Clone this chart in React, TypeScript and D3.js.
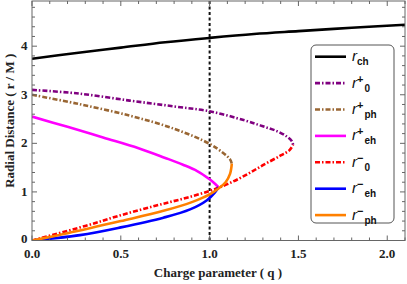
import React from 'react';
import * as d3 from 'd3';

type Pt = [number, number];

// series values: [charge q, radius r/M]
const rCh: Pt[] = [[0, 3.74], [0.25, 3.86], [0.5, 3.97], [0.75, 4.08], [1.0, 4.17], [1.25, 4.25], [1.5, 4.31], [1.8, 4.38], [2.1, 4.44]];
const rPlus0: Pt[] = [[0, 3.10], [0.25, 3.03], [0.55, 2.88], [0.8, 2.76], [1.0, 2.66], [1.2, 2.47], [1.3, 2.35], [1.38, 2.25], [1.435, 2.14], [1.462, 2.05], [1.47, 1.97]];
const rPlusPh: Pt[] = [[0, 3.0], [0.25, 2.82], [0.55, 2.57], [0.8, 2.30], [1.0, 1.99], [1.08, 1.79], [1.115, 1.67], [1.125, 1.58]];
const rPlusEh: Pt[] = [[0, 2.55], [0.2, 2.34], [0.4, 2.12], [0.6, 1.9], [0.75, 1.70], [0.85, 1.56], [0.93, 1.43], [1.0, 1.26], [1.03, 1.17], [1.05, 1.10]];
const rMinus0: Pt[] = [[0, 0], [0.3, 0.30], [0.5, 0.52], [0.7, 0.72], [0.86, 0.87], [1.0, 1.02], [1.1, 1.16], [1.2, 1.34], [1.3, 1.55], [1.4, 1.75], [1.45, 1.86], [1.47, 1.97]];
const rMinusEh: Pt[] = [[0, 0], [0.27, 0.11], [0.5, 0.27], [0.74, 0.47], [0.89, 0.64], [0.985, 0.83], [1.03, 0.99], [1.05, 1.10]];
const rMinusPh: Pt[] = [[0, 0], [0.2, 0.15], [0.5, 0.40], [0.74, 0.61], [0.9, 0.79], [1.0, 0.95], [1.05, 1.07], [1.09, 1.2], [1.115, 1.37], [1.125, 1.58]];

const xTicks = [0, 0.5, 1.0, 1.5, 2.0];
const yTicks = [0, 1, 2, 3, 4];
const qCritical = 1.0;

interface Series {
  data: Pt[];
  color: string;
  dash?: string;
  sup?: string;
  sub: string;
}

const series: Series[] = [
  { data: rCh, color: '#000000', sub: 'ch' },
  { data: rPlus0, color: '#800080', dash: '5,2,1.5,2', sup: '+', sub: '0' },
  { data: rPlusPh, color: '#996633', dash: '5,2,1.5,2', sup: '+', sub: 'ph' },
  { data: rPlusEh, color: '#ff00ff', sup: '+', sub: 'eh' },
  { data: rMinus0, color: '#ff0000', dash: '5,2,1.5,2', sup: '\u2212', sub: '0' },
  { data: rMinusEh, color: '#0000ff', sup: '\u2212', sub: 'eh' },
  { data: rMinusPh, color: '#ff8000', sup: '\u2212', sub: 'ph' },
];

const W = 407;
const H = 284;
const margin = { left: 32, right: 2, top: 1, bottom: 43.5 };

export default function App() {
  const x = d3.scaleLinear().domain([0, 2.1]).range([margin.left, W - margin.right]);
  const y = d3.scaleLinear().domain([0, 4.93]).range([H - margin.bottom, margin.top]);
  const x0 = x.range()[0], x1 = x.range()[1];
  const y0 = y.range()[0], y1 = y.range()[1];

  const line = d3.line<Pt>()
    .x(d => x(d[0]))
    .y(d => y(d[1]))
    .curve(d3.curveCatmullRom.alpha(0.5));

  const xMinor = d3.range(0, 2.11, 0.1).map(v => +v.toFixed(2));
  const yMinor = d3.range(0, 4.93, 0.2).map(v => +v.toFixed(2));
  const serif = '"Liberation Serif", "DejaVu Serif", serif';
  const sans = '"Liberation Sans", Arial, sans-serif';

  const legX = 311, legY = 45, legW = 83, legH = 178;
  const rowY = (i: number) => 56.7 + i * 26.4;

  return (
    <svg width={W} height={H} style={{ position: 'absolute', left: 0, top: 0 }}>
      <rect x={0} y={0} width={W} height={H} fill="#fff" />
      <defs>
        <clipPath id="plot">
          <rect x={x0} y={y1} width={x1 - x0} height={y0 - y1} />
        </clipPath>
      </defs>

      {/* vertical marker at q = 1 */}
      <line x1={x(qCritical)} x2={x(qCritical)} y1={y0} y2={y1} stroke="#111" strokeWidth={2} strokeDasharray="3,2.5" />

      <g clipPath="url(#plot)" fill="none">
        {series.map((s, i) => (
          <path key={i} d={line(s.data) || ''} stroke={s.color} strokeWidth={2.6}
            strokeDasharray={s.dash} strokeLinecap="butt" strokeLinejoin="round" />
        ))}
      </g>

      {/* frame and ticks */}
      <rect x={x0} y={y1} width={x1 - x0} height={y0 - y1} fill="none" stroke="#666" strokeWidth={1} />
      <g stroke="#666" strokeWidth={1}>
        {xMinor.map((v, i) => {
          const major = xTicks.some(t => Math.abs(t - v) < 1e-6);
          const len = major ? 5 : 3;
          return (
            <g key={'x' + i}>
              <line x1={x(v)} x2={x(v)} y1={y0} y2={y0 - len} />
              <line x1={x(v)} x2={x(v)} y1={y1} y2={y1 + len} />
            </g>
          );
        })}
        {yMinor.map((v, i) => {
          const major = yTicks.some(t => Math.abs(t - v) < 1e-6);
          const len = major ? 5 : 3;
          return (
            <g key={'y' + i}>
              <line x1={x0} x2={x0 + len} y1={y(v)} y2={y(v)} />
              <line x1={x1} x2={x1 - len} y1={y(v)} y2={y(v)} />
            </g>
          );
        })}
      </g>

      <g fontFamily={serif} fontWeight="bold" fontSize={13} fill="#222">
        {xTicks.map(t => (
          <text key={'xl' + t} x={x(t)} y={257.5} textAnchor="middle">{t.toFixed(1)}</text>
        ))}
        {yTicks.map(t => (
          <text key={'yl' + t} x={27.5} y={y(t) + (t === 0 ? 2.5 : 4)} textAnchor="end">{t}</text>
        ))}
        <text x={218} y={277} textAnchor="middle">Charge parameter ( q  )</text>
        <text transform={`translate(14,${(y0 + y1) / 2}) rotate(-90)`} textAnchor="middle">Radial Distance ( r / M )</text>
      </g>

      {/* legend */}
      <rect x={legX} y={legY} width={legW} height={legH} rx={5} fill="#fff" stroke="#555" strokeWidth={1} />
      {series.map((s, i) => (
        <g key={'lg' + i}>
          <line x1={315} x2={346} y1={rowY(i)} y2={rowY(i)} stroke={s.color} strokeWidth={2.6} strokeDasharray={s.dash} />
          <text x={352} y={rowY(i) + 4.5} fontFamily={sans} fill="#111">
            <tspan fontSize={15} fontStyle="italic">r</tspan>
            {s.sup ? <tspan fontSize={11} fontWeight="bold" dy={-5}>{s.sup}</tspan> : null}
            <tspan fontSize={10} fontWeight="bold" dx={s.sup ? 1 : 0} dy={s.sup ? 9 : 4}>{s.sub}</tspan>
          </text>
        </g>
      ))}
    </svg>
  );
}
